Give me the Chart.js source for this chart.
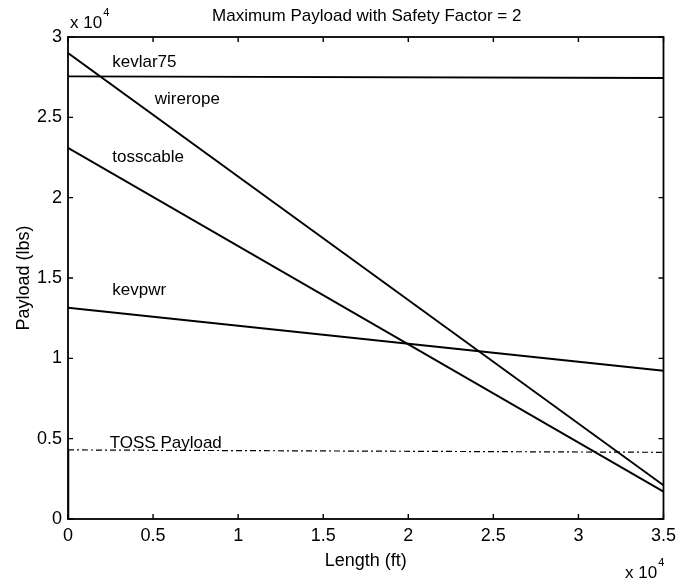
<!DOCTYPE html>
<html>
<head>
<meta charset="utf-8">
<script src="https://cdn.jsdelivr.net/npm/chart.js@4.4.1/dist/chart.umd.min.js"></script>
<style>
  html, body { margin: 0; padding: 0; background: #fff; }
  #wrap { width: 682px; height: 582px; }
</style>
</head>
<body>
<div id="wrap"><canvas id="chart" width="682" height="582"></canvas></div>
<script>
// Length end points (ft) and payload (lbs) at those lengths
const lengths = [0, 35000];
const kevlar75 = [27550, 27450];
const wirerope = [29000, 2100];
const tosscable = [23100, 1700];
const kevpwr = [13150, 9230];
const tossPayload = [4300, 4150];
const tossRiseX = [0, 0];
const tossRiseY = [0, 4300];

// on-plot name labels (placed in data units)
const labelText = ['kevlar75', 'wirerope', 'tosscable', 'kevpwr', 'TOSS Payload'];
const labelX = [2600, 5100, 2600, 2600, 2450];
const labelY = [28150, 25850, 22200, 13950, 4420];

const xTicks = [0, 5000, 10000, 15000, 20000, 25000, 30000, 35000];
const yTicks = [0, 5000, 10000, 15000, 20000, 25000, 30000];

const FONT = "'Liberation Sans', Arial, Helvetica, sans-serif";

const pts = (xs, ys) => xs.map((x, i) => ({x: x, y: ys[i]}));

const lineSet = (label, ys, extra) => Object.assign({
  label: label,
  data: pts(lengths, ys),
  borderColor: '#000',
  borderWidth: 1.9,
  pointRadius: 0,
  tension: 0,
  fill: false
}, extra || {});

// box, inward ticks, title, exponent labels and series names
const matlabLook = {
  id: 'matlabLook',
  afterDraw(chart) {
    const ctx = chart.ctx;
    const a = chart.chartArea;
    const xs = chart.scales.x, ys = chart.scales.y;
    ctx.save();
    ctx.strokeStyle = '#000';
    ctx.lineWidth = 1.8;
    ctx.strokeRect(a.left, a.top, a.right - a.left, a.bottom - a.top);

    ctx.lineWidth = 1.4;
    ctx.beginPath();
    xTicks.forEach(v => {
      const px = xs.getPixelForValue(v);
      ctx.moveTo(px, a.bottom); ctx.lineTo(px, a.bottom - 5);
      ctx.moveTo(px, a.top); ctx.lineTo(px, a.top + 5);
    });
    yTicks.forEach(v => {
      const py = ys.getPixelForValue(v);
      ctx.moveTo(a.left, py); ctx.lineTo(a.left + 5, py);
      ctx.moveTo(a.right, py); ctx.lineTo(a.right - 5, py);
    });
    ctx.stroke();

    ctx.fillStyle = '#000';
    ctx.textBaseline = 'middle';
    ctx.textAlign = 'center';
    ctx.font = '17px ' + FONT;
    ctx.fillText('Maximum Payload with Safety Factor = 2', (a.left + a.right) / 2 + 1, 16);

    // exponent labels
    ctx.textAlign = 'left';
    ctx.textBaseline = 'alphabetic';
    const expo = (x, y) => {
      ctx.font = '17px ' + FONT;
      ctx.fillText('x 10', x, y);
      const w = ctx.measureText('x 10').width;
      ctx.font = '11px ' + FONT;
      ctx.fillText('4', x + w + 1, y - 12);
    };
    expo(70, 28);
    expo(625, 578);

    ctx.font = '17px ' + FONT;
    labelText.forEach((t, i) => {
      ctx.fillText(t, xs.getPixelForValue(labelX[i]), ys.getPixelForValue(labelY[i]));
    });
    ctx.restore();
  }
};

new Chart(document.getElementById('chart'), {
  type: 'line',
  data: {
    datasets: [
      lineSet('kevlar75', kevlar75),
      lineSet('wirerope', wirerope),
      lineSet('tosscable', tosscable),
      lineSet('kevpwr', kevpwr),
      lineSet('TOSS Payload', tossPayload, {borderWidth: 1.2, borderDash: [6, 3, 2, 3]}),
      {
        label: 'TOSS rise',
        data: pts(tossRiseX, tossRiseY),
        borderColor: '#000',
        borderWidth: 2.5,
        pointRadius: 0
      }
    ]
  },
  options: {
    responsive: false,
    animation: false,
    layout: { padding: { top: 37, right: 15, left: 0, bottom: 0 } },
    plugins: {
      legend: { display: false },
      tooltip: { enabled: false },
      title: { display: false }
    },
    scales: {
      x: {
        type: 'linear',
        min: 0,
        max: 35000,
        afterFit: s => { s.height = 63; },
        afterBuildTicks: s => { s.ticks = xTicks.map(v => ({value: v})); },
        grid: { display: false, drawTicks: false },
        border: { display: false },
        ticks: {
          color: '#000',
          padding: 6,
          maxRotation: 0,
          font: { family: FONT, size: 18 },
          callback: v => String(v / 10000)
        },
        title: {
          display: true,
          text: 'Length (ft)',
          color: '#000',
          font: { family: FONT, size: 18 },
          padding: { top: 0, bottom: 10 }
        }
      },
      y: {
        type: 'linear',
        min: 0,
        max: 30000,
        afterFit: s => { s.width = 68; },
        afterBuildTicks: s => { s.ticks = yTicks.map(v => ({value: v})); },
        grid: { display: false, drawTicks: false },
        border: { display: false },
        ticks: {
          color: '#000',
          padding: 6,
          font: { family: FONT, size: 18 },
          callback: v => String(v / 10000)
        },
        title: {
          display: true,
          text: 'Payload (lbs)',
          color: '#000',
          font: { family: FONT, size: 18 },
          padding: { top: 13, bottom: 0 }
        }
      }
    }
  },
  plugins: [matlabLook]
});
</script>
</body>
</html>
